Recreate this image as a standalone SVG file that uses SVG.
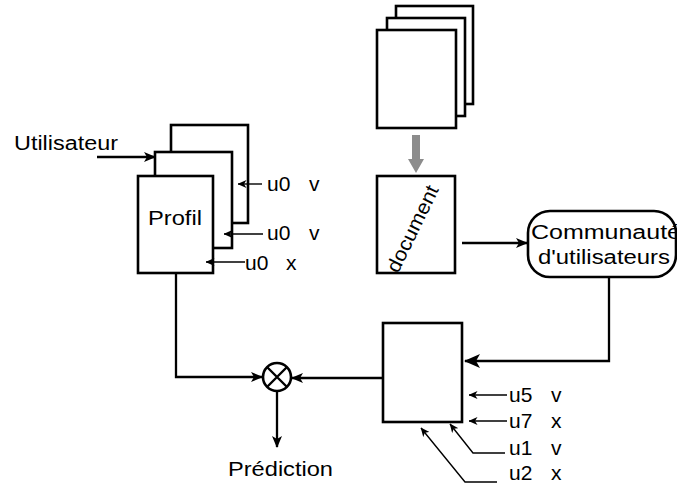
<svg xmlns="http://www.w3.org/2000/svg" width="677" height="486" viewBox="0 0 677 486">
<style>
.box{fill:#fff;stroke:#000;stroke-width:2.6}
.ln{fill:none;stroke:#000;stroke-width:2.3}
.thin{fill:none;stroke:#000;stroke-width:1.4}
text{font-family:"Liberation Sans",Arial,sans-serif;font-size:20px;fill:#000}
.lbl{font-size:21px}
</style>
<defs>
<marker id="ah" viewBox="0 0 12 10" refX="11" refY="5" markerWidth="12" markerHeight="10" markerUnits="userSpaceOnUse" orient="auto"><path d="M0,0 L12,5 L0,10 L3,5 z" fill="#000"/></marker>
<marker id="ahL" viewBox="0 0 16 14" refX="15" refY="7" markerWidth="16" markerHeight="14" markerUnits="userSpaceOnUse" orient="auto"><path d="M0,0 L16,7 L0,14 L4,7 z" fill="#000"/></marker>
<marker id="ahS" viewBox="0 0 9 8" refX="8.5" refY="4" markerWidth="9" markerHeight="8" markerUnits="userSpaceOnUse" orient="auto"><path d="M0,0 L9,4 L0,8 L2.5,4 z" fill="#000"/></marker>
</defs>
<rect width="677" height="486" fill="#fff"/>

<g id="profil">
<rect class="box" x="171" y="125" width="77" height="98"/>
<rect class="box" x="155" y="152" width="77" height="96"/>
<rect class="box" x="138" y="176" width="75" height="97"/>
<text x="148" y="225" font-size="21" textLength="54" lengthAdjust="spacingAndGlyphs">Profil</text>
</g>

<g id="utilisateur">
<text x="14" y="150" textLength="104" lengthAdjust="spacingAndGlyphs">Utilisateur</text>
</g>

<g id="documents">
<rect class="box" x="396" y="6" width="77" height="98"/>
<rect class="box" x="387" y="18" width="78" height="98"/>
<rect class="box" x="377" y="30" width="79" height="98"/>
</g>

<g id="document">
<rect class="box" x="377" y="176" width="78" height="97"/>
<text transform="translate(398,274) rotate(-64)" font-size="20" textLength="94" lengthAdjust="spacingAndGlyphs">document</text>
</g>

<g id="communaute">
<rect class="box" x="528" y="211" width="148" height="66" rx="22" ry="22"/>
<text x="531" y="239" font-size="21" textLength="150" lengthAdjust="spacingAndGlyphs">Communauté</text>
<text x="538" y="264" font-size="21" textLength="132" lengthAdjust="spacingAndGlyphs">d'utilisateurs</text>
</g>

<g id="notes">
<rect class="box" x="383" y="323" width="79" height="99"/>
</g>

<g id="produit">
<circle cx="277" cy="377" r="14" fill="#fff" stroke="#000" stroke-width="2.6"/>
<path d="M267,367 L287,387 M287,367 L267,387" stroke="#000" stroke-width="2.4"/>
</g>

<g id="prediction">
<text x="228" y="476" textLength="105" lengthAdjust="spacingAndGlyphs">Prédiction</text>
</g>

<g id="labels">
<text class="lbl" x="267" y="191">u0 <tspan x="309">v</tspan></text>
<text class="lbl" x="267" y="240">u0 <tspan x="309">v</tspan></text>
<text class="lbl" x="245" y="270">u0 <tspan x="286">x</tspan></text>
<text class="lbl" x="509" y="402">u5 <tspan x="551">v</tspan></text>
<text class="lbl" x="509" y="428">u7 <tspan x="551">x</tspan></text>
<text class="lbl" x="509" y="455">u1 <tspan x="551">v</tspan></text>
<text class="lbl" x="509" y="480">u2 <tspan x="551">x</tspan></text>
</g>

<g id="connectors">
<path class="ln" d="M97,157 H155" marker-end="url(#ah)"/>
<path class="thin" d="M262,184 H238" marker-end="url(#ahS)"/>
<path class="thin" d="M263,234 H224" marker-end="url(#ahS)"/>
<path class="thin" d="M245,262 H206" marker-end="url(#ahS)"/>
<path class="ln" d="M176,273 V377 H262" marker-end="url(#ah)"/>
<path class="ln" d="M383,378 H292" marker-end="url(#ah)"/>
<path class="ln" d="M277,391 V447" marker-end="url(#ah)"/>
<path class="ln" d="M462,243 H527" marker-end="url(#ah)"/>
<path class="ln" d="M609,277 V361 H465" marker-end="url(#ahL)"/>
<path class="thin" d="M507,395 H469" marker-end="url(#ahS)"/>
<path class="thin" d="M507,421 H469" marker-end="url(#ahS)"/>
<path class="thin" d="M505,453 H473 L450,424" marker-end="url(#ahS)"/>
<path class="thin" d="M497,482 H465 L421,428" marker-end="url(#ahS)"/>
<polygon points="412,135 420,135 420,159 424,159 416,173 408,159 412,159" fill="#8c8c8c"/>
</g>
</svg>
